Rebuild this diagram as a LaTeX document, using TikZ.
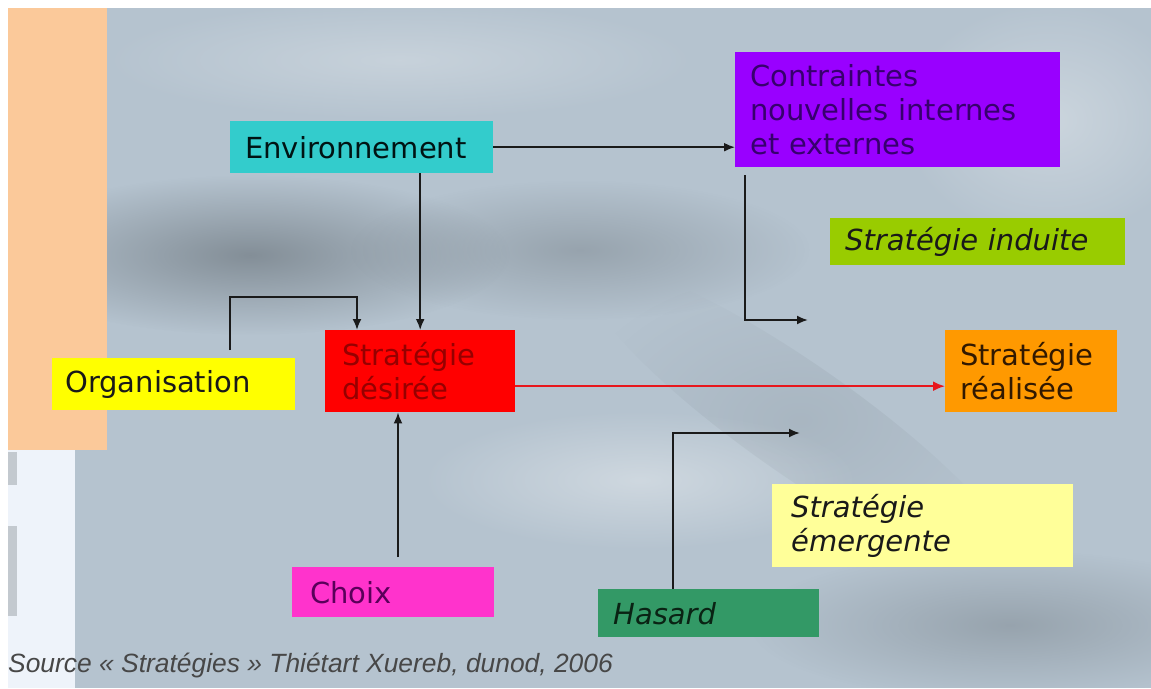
\documentclass[tikz,border=0pt]{standalone}
\usepackage{fontspec}
\setmainfont{DejaVu Sans}
\newfontfamily\srcfont{Liberation Sans}
\usetikzlibrary{arrows.meta,fadings,calc}
\tikzfading[name=blobfade, inner color=transparent!0, outer color=transparent!100]
\definecolor{bgbase}{HTML}{B5C3CF}
\definecolor{bgdark}{HTML}{737D85}
\definecolor{peach}{HTML}{FBC99A}
\definecolor{panel}{HTML}{EEF3FA}
\definecolor{tab}{HTML}{C3C9CF}
\definecolor{ccyan}{HTML}{33CCCC}
\definecolor{cpurple}{HTML}{9900FF}
\definecolor{cgreen}{HTML}{99CC00}
\definecolor{cred}{HTML}{FF0000}
\definecolor{cyellow}{HTML}{FFFF00}
\definecolor{corange}{HTML}{FF9900}
\definecolor{clyellow}{HTML}{FFFF99}
\definecolor{cmagenta}{HTML}{FF33CC}
\definecolor{cdgreen}{HTML}{339966}
\definecolor{linec}{HTML}{1A1A1A}
\definecolor{redline}{HTML}{E8161C}
\tikzset{
  box/.style={anchor=north west, inner xsep=15pt, inner ysep=0pt, align=left,
    font=\fontsize{29}{34}\selectfont, text=black!90},
  itbox/.style={box, font=\fontsize{29}{34}\selectfont\itshape},
  arr/.style={draw=linec, line width=1.9pt, -{Latex[length=11pt,width=9pt]}},
  redarr/.style={draw=redline, line width=2.2pt, -{Latex[length=12pt,width=10pt]}},
  blob/.style={path fading=blobfade},
}
\begin{document}
\begin{tikzpicture}[x=1pt,y=-1pt]
\useasboundingbox (0,0) rectangle (1151,688);
% background
\fill[white] (0,0) rectangle (1151,688);
\fill[bgbase] (107,8) rectangle (1151,688);
\fill[bgbase] (75,450) rectangle (107,688);
\begin{scope}
\clip (107,8) rectangle (1151,688) (75,450) rectangle (107,688);
\fill[bgdark, opacity=0.75, blob] (250,255) ellipse (260 and 80);
\fill[bgdark, opacity=0.45, blob] (580,250) ellipse (230 and 70);
\fill[bgdark, opacity=0.18, blob, rotate around={-35:(800,420)}] (800,420) ellipse (260 and 55);
\fill[bgdark, opacity=0.45, blob] (1010,625) ellipse (260 and 75);
\fill[white, opacity=0.35, blob] (640,480) ellipse (220 and 70);
\fill[white, opacity=0.3, blob] (1050,120) ellipse (150 and 120);
\fill[white, opacity=0.25, blob] (400,60) ellipse (300 and 60);
\end{scope}
\fill[peach] (8,8) rectangle (107,450);
\fill[panel] (8,450) rectangle (75,688);
\fill[tab] (8,452) rectangle (17,485);
\fill[tab] (8,526) rectangle (17,616);
% boxes
\node[box, fill=ccyan, text width=233pt, minimum height=52pt, text=black!85!teal] (env) at (230,121) {Environnement};
\node[box, fill=cpurple, text width=295pt, minimum height=115pt, text={rgb,255:red,55;green,0;blue,110}] (con) at (735,52) {Contraintes\\nouvelles internes\\et externes};
\node[itbox, fill=cgreen, text width=265pt, minimum height=47pt] (ind) at (830,218) {Stratégie induite};
\node[box, fill=cred, text width=156pt, minimum height=82pt, inner xsep=17pt, text={rgb,255:red,150;green,0;blue,0}] (des) at (325,330) {Stratégie\\désirée};
\node[box, fill=cyellow, text width=217pt, minimum height=52pt, inner xsep=13pt] (org) at (52,358) {Organisation};
\node[box, fill=corange, text width=142pt, minimum height=82pt, text={rgb,255:red,50;green,25;blue,0}] (rea) at (945,330) {Stratégie\\réalisée};
\node[itbox, fill=clyellow, text width=263pt, minimum height=83pt, inner xsep=19pt] (eme) at (772,484) {Stratégie\\émergente};
\node[box, fill=cmagenta, text width=166pt, minimum height=50pt, inner xsep=18pt, text={rgb,255:red,90;green,0;blue,90}] (cho) at (292,567) {Choix};
\node[itbox, fill=cdgreen, text width=191pt, minimum height=48pt, text={rgb,255:red,10;green,35;blue,20}] (has) at (598,589) {Hasard};
\node[anchor=west, inner sep=0pt, font=\srcfont\itshape\fontsize{26.4}{30}\selectfont, text=black!72] (src) at (8,666) {Source « Stratégies » Thiétart Xuereb, dunod, 2006};
% free ends
\coordinate (o1) at (230,350);
\coordinate (o2) at (357,297);
\coordinate (c1) at (398,557);
\coordinate (p1) at (745,175);
\coordinate (p2) at (808,320);
\coordinate (h1) at (673,589);
\coordinate (h2) at (800,433);
% connectors
\draw[arr] (env.east) -- (env.east -| con.west);
\draw[arr] (env.south -| des.north) -- (des.north);
\draw[arr] (o1) |- (o2) -- (o2 |- des.north);
\draw[arr] (c1) -- (c1 |- des.south);
\draw[arr] (p1) |- (p2);
\draw[arr] (h1) |- (h2);
\draw[redarr] ([yshift=-15pt]des.east) -- ([yshift=-15pt]des.east -| rea.west);
\end{tikzpicture}
\end{document}
